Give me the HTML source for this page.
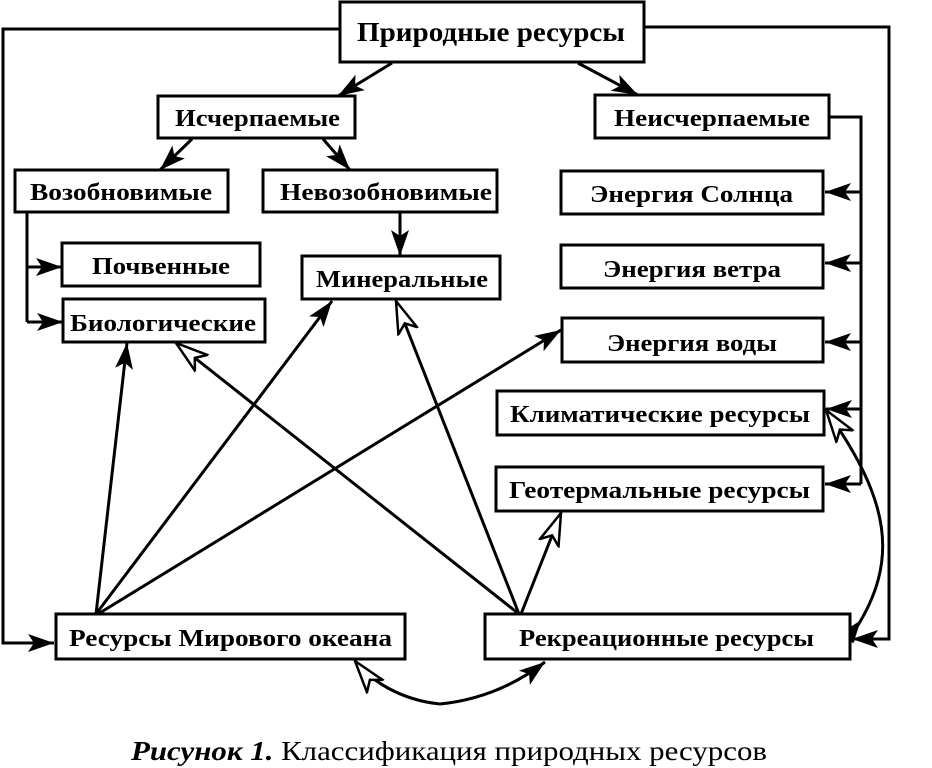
<!DOCTYPE html>
<html><head><meta charset="utf-8"><style>
html,body{margin:0;padding:0;background:#fff;}
svg{display:block;}
text{font-family:"Liberation Serif",serif;font-size:24px;font-weight:bold;fill:#000;}
</style></head><body>
<svg width="932" height="768" viewBox="0 0 932 768" xmlns="http://www.w3.org/2000/svg">
<defs>
<marker id="f" markerUnits="userSpaceOnUse" markerWidth="28" markerHeight="22" refX="26" refY="11" orient="auto">
<path d="M0,2 L26,11 L0,20 L6,11 Z" fill="#000"/>
</marker>
<marker id="o" markerUnits="userSpaceOnUse" markerWidth="36" markerHeight="26" refX="33" refY="13" orient="auto">
<path d="M1,3 L33,13 L1,23 L9,13 Z" fill="#fff" stroke="#000" stroke-width="2.5"/>
</marker>
</defs>
<g fill="none" stroke="#000" stroke-width="3">
<polyline points="340,29 3,29 3,643 54,643" marker-end="url(#f)"/>
<polyline points="644,27 889,27 889,639 852,639" marker-end="url(#f)"/>
<polyline points="829,117 861,117 861,484"/>
<line x1="861" y1="192" x2="825" y2="192" marker-end="url(#f)"/>
<line x1="861" y1="263" x2="825" y2="263" marker-end="url(#f)"/>
<line x1="861" y1="342" x2="825" y2="342" marker-end="url(#f)"/>
<line x1="861" y1="409" x2="826" y2="409" marker-end="url(#f)"/>
<line x1="861" y1="484" x2="825" y2="484" marker-end="url(#f)"/>
<line x1="392" y1="63" x2="338" y2="96" marker-end="url(#f)"/>
<line x1="578" y1="63" x2="638" y2="95" marker-end="url(#f)"/>
<line x1="192" y1="139" x2="160" y2="170" marker-end="url(#f)"/>
<line x1="323" y1="139" x2="350" y2="170" marker-end="url(#f)"/>
<line x1="400" y1="212" x2="400" y2="256" marker-end="url(#f)"/>
<polyline points="27,212 27,322"/>
<line x1="27" y1="267" x2="62" y2="267" marker-end="url(#f)"/>
<line x1="27" y1="322" x2="63" y2="322" marker-end="url(#f)"/>
<line x1="96" y1="614" x2="127" y2="343" marker-end="url(#f)"/>
<line x1="96" y1="614" x2="332" y2="301" marker-end="url(#f)"/>
<line x1="98" y1="614" x2="561" y2="330" marker-end="url(#f)"/>
<line x1="519" y1="614" x2="176" y2="343" marker-end="url(#o)"/>
<line x1="519" y1="614" x2="396" y2="301" marker-end="url(#o)"/>
<line x1="521" y1="614" x2="561" y2="513" marker-end="url(#o)"/>
<path d="M855,630 C900,560 890,500 826,410" marker-end="url(#o)"/>
<path d="M848,623 L853,642"/>
<path d="M440,704 C400,700 370,680 355,661" marker-end="url(#o)"/>
<path d="M440,704 C480,700 515,685 545,662" marker-end="url(#f)"/>
</g>
<path d="M853,644 L845,619 L852,626 L861,620 Z" fill="#000"/>
<g fill="#fff" stroke="#000" stroke-width="3">
<rect x="340" y="2" width="304" height="60"/>
<rect x="158" y="96" width="197" height="42"/>
<rect x="595" y="95" width="234" height="43"/>
<rect x="15" y="170" width="213" height="42"/>
<rect x="263" y="170" width="234" height="42"/>
<rect x="62" y="243" width="198" height="43"/>
<rect x="63" y="299" width="202" height="43"/>
<rect x="302" y="256" width="198" height="43"/>
<rect x="561" y="171" width="262" height="43"/>
<rect x="561" y="245" width="262" height="43"/>
<rect x="562" y="318" width="261" height="44"/>
<rect x="497" y="391" width="327" height="44"/>
<rect x="496" y="467" width="327" height="44"/>
<rect x="56" y="614" width="349" height="45"/>
<rect x="485" y="614" width="365" height="45"/>
</g>
<g lengthAdjust="spacingAndGlyphs">
<text x="357" y="41" textLength="268" lengthAdjust="spacingAndGlyphs" style="font-size:27px">Природные ресурсы</text>
<text x="175" y="126" textLength="165" lengthAdjust="spacingAndGlyphs">Исчерпаемые</text>
<text x="614" y="126" textLength="196" lengthAdjust="spacingAndGlyphs">Неисчерпаемые</text>
<text x="30" y="200" textLength="182" lengthAdjust="spacingAndGlyphs">Возобновимые</text>
<text x="280" y="200" textLength="212" lengthAdjust="spacingAndGlyphs">Невозобновимые</text>
<text x="92" y="274" textLength="138" lengthAdjust="spacingAndGlyphs">Почвенные</text>
<text x="70" y="331" textLength="186" lengthAdjust="spacingAndGlyphs">Биологические</text>
<text x="316" y="287" textLength="172" lengthAdjust="spacingAndGlyphs">Минеральные</text>
<text x="590" y="202" textLength="203" lengthAdjust="spacingAndGlyphs">Энергия Солнца</text>
<text x="603" y="277" textLength="178" lengthAdjust="spacingAndGlyphs">Энергия ветра</text>
<text x="607" y="351" textLength="170" lengthAdjust="spacingAndGlyphs">Энергия воды</text>
<text x="510" y="422" textLength="300" lengthAdjust="spacingAndGlyphs">Климатические ресурсы</text>
<text x="509" y="498" textLength="301" lengthAdjust="spacingAndGlyphs">Геотермальные ресурсы</text>
<text x="69" y="646" textLength="323" lengthAdjust="spacingAndGlyphs">Ресурсы Мирового океана</text>
<text x="519" y="646" textLength="295" lengthAdjust="spacingAndGlyphs">Рекреационные ресурсы</text>
<text x="131" y="760" textLength="636" lengthAdjust="spacingAndGlyphs" style="font-size:27px;font-weight:normal"><tspan font-weight="bold" font-style="italic">Рисунок 1.</tspan> Классификация природных ресурсов</text>
</g>
</svg>
</body></html>
